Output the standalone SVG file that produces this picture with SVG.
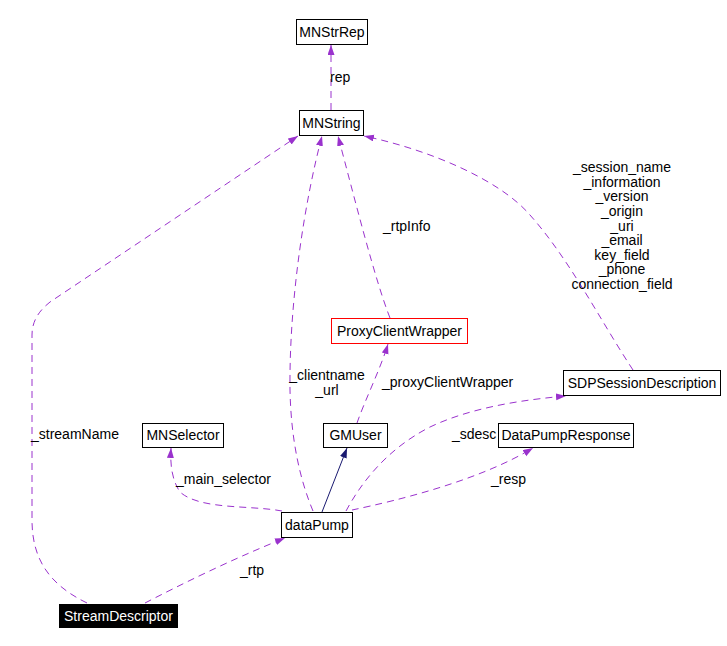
<svg xmlns="http://www.w3.org/2000/svg" width="727" height="646" viewBox="0 0 727 646">
<style>
.box{fill:#fff;stroke:#000;stroke-width:1}
.t{font-family:"Liberation Sans",Arial,sans-serif;font-size:14px;fill:#000}
.c{text-anchor:middle}
.e{fill:none;stroke:#9a32cd;stroke-width:1;stroke-dasharray:7,5}
.s{fill:none;stroke:#191970;stroke-width:1}
</style>
<defs>
<marker id="ap" markerUnits="userSpaceOnUse" markerWidth="11" markerHeight="8" refX="10" refY="3.5" orient="auto"><path d="M0,0 L10,3.5 L0,7 z" fill="#9a32cd"/></marker>
<marker id="an" markerUnits="userSpaceOnUse" markerWidth="11" markerHeight="8" refX="10" refY="3.5" orient="auto"><path d="M0,0 L10,3.5 L0,7 z" fill="#191970"/></marker>
</defs>
<rect width="727" height="646" fill="#fff"/>
<g id="edges">
<path class="e" d="M331,110 L331,45" marker-end="url(#ap)"/>
<path class="e" d="M87,603 C50,585 32,560 32,520 L32,335 C32,320 40,310 50,302 L298,136" marker-end="url(#ap)"/>
<path class="e" d="M313,511 C300,480 291,440 290,390 C289,300 305,200 322,136" marker-end="url(#ap)"/>
<path class="e" d="M390,318 C375,280 355,200 338,136" marker-end="url(#ap)"/>
<path class="e" d="M633,370 C600,320 570,260 530,215 C500,180 430,150 364,136" marker-end="url(#ap)"/>
<path class="e" d="M357,423 C365,400 380,370 388,344" marker-end="url(#ap)"/>
<path class="s" d="M322,512 L347,448" marker-end="url(#an)"/>
<path class="e" d="M282,511 C250,505 200,510 180,492 C172,480 170,465 171,448" marker-end="url(#ap)"/>
<path class="e" d="M346,511 C360,485 385,450 430,427 C470,408 520,400 566,396" marker-end="url(#ap)"/>
<path class="e" d="M352,510 C400,500 480,480 533,448" marker-end="url(#ap)"/>
<path class="e" d="M145,603 C180,585 230,560 285,538" marker-end="url(#ap)"/>
<text class="t" x="330" y="82">rep</text>
<text class="t" x="31" y="439">_streamName</text>
<text class="t c" x="327" y="380">_clientname</text>
<text class="t c" x="327" y="395">_url</text>
<text class="t" x="383" y="231">_rtpInfo</text>
<text class="t" x="382" y="387">_proxyClientWrapper</text>
<text class="t c" x="622" y="172">_session_name</text>
<text class="t c" x="622" y="186.6">_information</text>
<text class="t c" x="622" y="201.25">_version</text>
<text class="t c" x="622" y="215.9">_origin</text>
<text class="t c" x="622" y="230.5">_uri</text>
<text class="t c" x="622" y="245.1">_email</text>
<text class="t c" x="622" y="259.75">key_field</text>
<text class="t c" x="622" y="274.4">_phone</text>
<text class="t c" x="622" y="289">connection_field</text>
<text class="t" x="176" y="484">_main_selector</text>
<text class="t" x="452" y="439">_sdesc</text>
<text class="t" x="491" y="484">_resp</text>
<text class="t" x="240" y="575">_rtp</text>
</g>
<g id="MNStrRep"><rect class="box" x="296.5" y="19.5" width="71" height="25"/><text class="t c" x="332" y="37">MNStrRep</text></g>
<g id="MNString"><rect class="box" x="299.5" y="110.5" width="64" height="25"/><text class="t c" x="331.5" y="128">MNString</text></g>
<g id="ProxyClientWrapper"><rect class="box" x="331.5" y="318.5" width="136" height="25" style="stroke:#f00"/><text class="t c" x="399.5" y="336">ProxyClientWrapper</text></g>
<g id="SDPSessionDescription"><rect class="box" x="563.5" y="370.5" width="157" height="25"/><text class="t c" x="642" y="388">SDPSessionDescription</text></g>
<g id="MNSelector"><rect class="box" x="142.5" y="423.5" width="81" height="24"/><text class="t c" x="183" y="440">MNSelector</text></g>
<g id="GMUser"><rect class="box" x="323.5" y="423.5" width="64" height="24"/><text class="t c" x="355.5" y="440">GMUser</text></g>
<g id="DataPumpResponse"><rect class="box" x="498.5" y="423.5" width="135" height="24"/><text class="t c" x="566" y="440">DataPumpResponse</text></g>
<g id="dataPump"><rect class="box" x="281.5" y="512.5" width="71" height="25"/><text class="t c" x="317" y="530">dataPump</text></g>
<g id="StreamDescriptor"><rect x="59" y="604" width="119" height="24" fill="#000"/><text class="t c" x="118.5" y="621" style="fill:#fff">StreamDescriptor</text></g>
</svg>
